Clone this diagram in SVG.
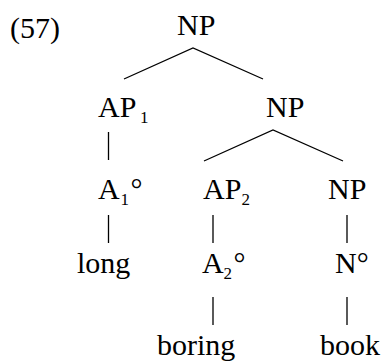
<svg xmlns="http://www.w3.org/2000/svg" width="385" height="363" viewBox="0 0 385 363">
  <style>
    .t { font-family: 'Liberation Serif', 'Times New Roman', Times, serif; font-size: 30px; fill: #000; }
    .sub { font-size: 17px; }
    .edge { stroke: #000; stroke-width: 1.3; fill: none; stroke-linecap: butt; }
  </style>
  <rect width="385" height="363" fill="#fff"/>

  <!-- example number -->
  <g id="label-57" class="t">
    <text x="10" y="37.5">(57)</text>
  </g>

  <!-- branches -->
  <g id="connectors">
    <polyline class="edge" points="124,79 193,48 263,79"/>
    <polyline class="edge" points="204,161 273,130 343,161"/>
    <line class="edge" x1="108.5" y1="132" x2="108.5" y2="160"/>
    <line class="edge" x1="108.5" y1="215" x2="108.5" y2="243"/>
    <line class="edge" x1="213" y1="215" x2="213" y2="243"/>
    <line class="edge" x1="213" y1="297" x2="213" y2="325"/>
    <line class="edge" x1="347" y1="215" x2="347" y2="243"/>
    <line class="edge" x1="347" y1="297" x2="347" y2="325"/>
  </g>

  <!-- nodes -->
  <g id="np-root" class="t">
    <text x="177" y="35">NP</text>
  </g>
  <g id="ap1" class="t">
    <text x="98" y="117">AP</text>
    <text class="sub" x="140" y="123">1</text>
  </g>
  <g id="np-mid" class="t">
    <text x="266" y="117">NP</text>
  </g>
  <g id="a1" class="t">
    <text x="98" y="199">A</text>
    <text class="sub" x="120.5" y="205">1</text>
    <text x="130.5" y="199">°</text>
  </g>
  <g id="ap2" class="t">
    <text x="203" y="199">AP</text>
    <text class="sub" x="241.5" y="205">2</text>
  </g>
  <g id="np-low" class="t">
    <text x="328" y="199">NP</text>
  </g>
  <g id="long" class="t">
    <text x="77" y="273">long</text>
  </g>
  <g id="a2" class="t">
    <text x="202" y="273">A</text>
    <text class="sub" x="223.5" y="279">2</text>
    <text x="233.5" y="273">°</text>
  </g>
  <g id="n0" class="t">
    <text x="335" y="273">N°</text>
  </g>
  <g id="boring" class="t">
    <text x="157" y="355">boring</text>
  </g>
  <g id="book" class="t">
    <text x="320" y="355">book</text>
  </g>
</svg>
